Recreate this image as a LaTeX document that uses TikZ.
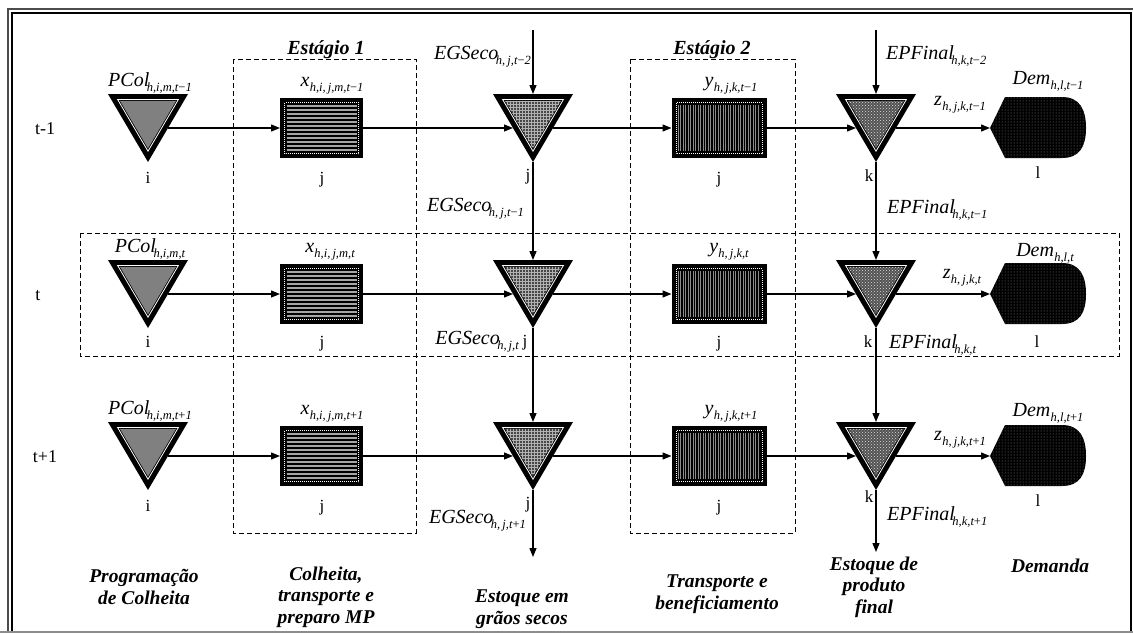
\documentclass[tikz,border=0pt]{standalone}
\usepackage{fontspec}
\setmainfont{Liberation Serif}
\usetikzlibrary{arrows.meta,patterns}
\newcommand\sbs[2][-2.5pt]{\kern#1\raisebox{-5pt}{\fontsize{12.5}{12.5}\selectfont\itshape #2}}
\newcommand\vrb[2]{\textit{#1}\sbs{#2}}
\newcommand\vrn[2]{\textit{#1}\sbs[0.3pt]{#2}}
\newcommand\mn{{\upshape −}}
\newcommand\pl{{\upshape +}}
% triangle: name, x, y, fill style
\newcommand\tri[4]{%
  \fill (#2-40,#3-34) -- (#2+40,#3-34) -- (#2,#3+34) -- cycle;
  \begin{scope}[shift={(#2,#3-11.1)}]
    \draw[white, line width=0.8pt] (-30.4,-17.4) -- (30.4,-17.4) -- (0,34.3) -- cycle;
    \path[#4] (-28,-16) -- (28,-16) -- (0,31.6) -- cycle;
  \end{scope}
  \node[tribox] (#1) at (#2,#3) {};
}
% rectangle base: name, xc, yc, width
\newcommand\rectbase[4]{%
  \fill (#2-#4/2,#3-30) rectangle (#2+#4/2,#3+30);
  \draw[white, line width=0.6pt, dash pattern=on 1pt off 1pt] (#2-#4/2+4.5,#3-25.5) rectangle (#2+#4/2-4.5,#3+25.5);
  \node[inner sep=0pt, outer sep=0pt, minimum width=#4pt, minimum height=60pt] (#1) at (#2,#3) {};
}
\newcommand\rectH[4]{%
  \rectbase{#1}{#2}{#3}{#4}%
  \foreach \yy in {-22,-18,...,22} {\draw[black!35, line width=1.1pt] (#2-#4/2+6.5,#3+\yy) -- (#2+#4/2-6.5,#3+\yy);}
}
\newcommand\rectV[4]{%
  \rectbase{#1}{#2}{#3}{#4}%
  \foreach \xx in {-41,-38.5,...,41.2} {\draw[black!45, line width=0.9pt] (#2+\xx,#3-23) -- (#2+\xx,#3+23);}
}
\newcommand\dem[2]{%
  \path[fill=black, postaction={pattern=dots, pattern color=black!45}] (990,#2) -- (1005,#2-31) -- (1062,#2-31) .. controls (1080,#2-31) and (1086,#2-18) .. (1086,#2) .. controls (1086,#2+18) and (1080,#2+30) .. (1062,#2+30) -- (1005,#2+30) -- cycle;
  \node[inner sep=0pt, outer sep=0pt, minimum width=96pt, minimum height=61pt] (#1) at (1038,#2) {};
}
\begin{document}
\begin{tikzpicture}[x=1pt,y=-1pt,
  tribox/.style={inner sep=0pt, outer sep=0pt, minimum width=40pt, minimum height=68pt},
  flow/.style={line width=1.3pt, -{Triangle[length=9pt,width=7pt]}},
  lab/.style={font=\fontsize{20}{22}\selectfont, inner sep=0pt, anchor=base},
  idx/.style={font=\fontsize{17}{17}\selectfont, inner sep=0pt, anchor=base},
  rowlab/.style={font=\fontsize{18}{18}\selectfont, inner sep=0pt, anchor=base},
  stagettl/.style={font=\fontsize{20}{22}\selectfont\bfseries\itshape, inner sep=0pt, anchor=base},
  foot/.style={font=\fontsize{19.5}{21.5}\selectfont\bfseries\itshape, align=center, inner sep=0pt},
  dashbox/.style={draw, line width=1pt, dash pattern=on 5pt off 3pt},
  pcolfill/.style={fill=black!50},
  egfill/.style={fill=black!72, postaction={pattern=grid, pattern color=black!30}},
  epfill/.style={fill=black!68, postaction={pattern=crosshatch dots, pattern color=black!12}}
]
\useasboundingbox (0,0) rectangle (1133,635);
\fill[white] (0,0) rectangle (1133,635);
% frame
\draw[line width=1.2pt, black!70] (8,631) -- (8,9) -- (1133,9);
\draw[line width=1.5pt] (12,631) -- (12,13) -- (1131,13) -- (1131,631);
\draw[line width=1.2pt, black!45] (0,632) -- (1133,632);
% dashed boxes
\path[dashbox] (233,59) rectangle (416,533);
\path[dashbox] (630,59) rectangle (795,533);
\path[dashbox] (80,233) rectangle (1119,356);
\node[stagettl] (st1) at (326,54) {Estágio 1};
\node[stagettl] (st2) at (712,54) {Estágio 2};
% row labels
\node[rowlab] (r1) at (45,134) {t-1};
\node[rowlab] (r2) at (38,300) {t};
\node[rowlab] (r3) at (45,462) {t+1};
% symbols
\foreach \r/\y in {1/128,2/294,3/456} {
  \tri{p\r}{148}{\y}{pcolfill}
  \rectH{a\r}{321.5}{\y}{83}
  \tri{e\r}{533}{\y}{egfill}
  \rectV{b\r}{719}{\y}{95}
  \tri{f\r}{876}{\y}{epfill}
  \dem{d\r}{\y}
}
\coordinate (egtop) at (533,30);
\coordinate (eptop) at (876,30);
\coordinate (egbot) at (533,557);
\coordinate (epbot) at (876,552);
% connectors
\foreach \r in {1,2,3} {
  \draw[flow] (p\r.east) -- (a\r.west);
  \draw[flow] (a\r.east) -- (e\r.west);
  \draw[flow] (e\r.east) -- (b\r.west);
  \draw[flow] (b\r.east) -- (f\r.west);
  \draw[flow] (f\r.east) -- (d\r.west);
}
\draw[flow] (egtop) -- (e1.north);
\draw[flow] (e1.south) -- (e2.north);
\draw[flow] (e2.south) -- (e3.north);
\draw[flow] (e3.south) -- (egbot);
\draw[flow] (eptop) -- (f1.north);
\draw[flow] (f1.south) -- (f2.north);
\draw[flow] (f2.south) -- (f3.north);
\draw[flow] (f3.south) -- (epbot);
% variable labels, row t-1
\node[lab] (lp1) at (150,86) {\vrb{PCol}{h,i,m,t\mn1}};
\node[lab] (lx1) at (332,86) {\vrn{x}{h,i,\,j,m,t\mn1}};
\node[lab] (ly1) at (731,86) {\vrn{y}{h,\,j,k,t\mn1}};
\node[lab] (lz1) at (960,105) {\vrn{z}{h,\,j,k,t\mn1}};
\node[lab] (ld1) at (1048,84) {\vrn{Dem}{h,l,t\mn1}};
\node[lab, anchor=base east] (lg0) at (531,59) {\vrb{EGSeco}{h,\,j,t\mn2}};
\node[lab, anchor=base west] (lf0) at (886,59) {\vrb{EPFinal}{h,k,t\mn2}};
% row t
\node[lab] (lp2) at (150,252) {\vrb{PCol}{h,i,m,t}};
\node[lab] (lx2) at (330,252) {\vrn{x}{h,i,\,j,m,t}};
\node[lab] (ly2) at (729,252) {\vrn{y}{h,\,j,k,t}};
\node[lab] (lz2) at (962,278) {\vrn{z}{h,\,j,k,t}};
\node[lab] (ld2) at (1045,256) {\vrn{Dem}{h,l,t}};
\node[lab, anchor=base east] (lg1) at (524,211) {\vrb{EGSeco}{h,\,j,t\mn1}};
\node[lab, anchor=base west] (lf1) at (887,213) {\vrb{EPFinal}{h,k,t\mn1}};
% row t+1
\node[lab] (lp3) at (150,414) {\vrb{PCol}{h,i,m,t\pl1}};
\node[lab] (lx3) at (332,414) {\vrn{x}{h,i,\,j,m,t\pl1}};
\node[lab] (ly3) at (731,414) {\vrn{y}{h,\,j,k,t\pl1}};
\node[lab] (lz3) at (960,440) {\vrn{z}{h,\,j,k,t\pl1}};
\node[lab] (ld3) at (1048,416) {\vrn{Dem}{h,l,t\pl1}};
\node[lab, anchor=base east] (lg2) at (519,344) {\vrb{EGSeco}{h,\,j,t}};
\node[lab, anchor=base west] (lf2) at (889,348) {\vrb{EPFinal}{h,k,t}};
\node[lab, anchor=base east] (lg3) at (526,523) {\vrb{EGSeco}{h,\,j,t\pl1}};
\node[lab, anchor=base west] (lf3) at (887,520) {\vrb{EPFinal}{h,k,t\pl1}};
% index labels
\node[idx] (i1) at (148,183) {i};
\node[idx] (j1a) at (322,183) {j};
\node[idx] (j1b) at (528,180) {j};
\node[idx] (j1c) at (719,183) {j};
\node[idx] (k1) at (869,181) {k};
\node[idx] (l1) at (1038,178) {l};
\node[idx] (i2) at (148,347) {i};
\node[idx] (j2a) at (322,347) {j};
\node[idx] (j2b) at (525,346) {j};
\node[idx] (j2c) at (719,347) {j};
\node[idx] (k2) at (868,347) {k};
\node[idx] (l2) at (1037,347) {l};
\node[idx] (i3) at (148,511) {i};
\node[idx] (j3a) at (322,511) {j};
\node[idx] (j3b) at (528,508) {j};
\node[idx] (j3c) at (719,511) {j};
\node[idx] (k3) at (869,502) {k};
\node[idx] (l3) at (1038,506) {l};
% footer labels
\node[foot] (c1) at (144,587) {Programação\\de Colheita};
\node[foot] (c2) at (326,597) {Colheita,\\transporte e\\preparo MP};
\node[foot] (c3) at (522,609) {Estoque em\\grãos secos};
\node[foot] (c4) at (717,594) {Transporte e\\beneficiamento};
\node[foot] (c5) at (874,587) {Estoque de\\produto\\final};
\node[foot] (c6) at (1050,566) {Demanda};
\end{tikzpicture}
\end{document}
